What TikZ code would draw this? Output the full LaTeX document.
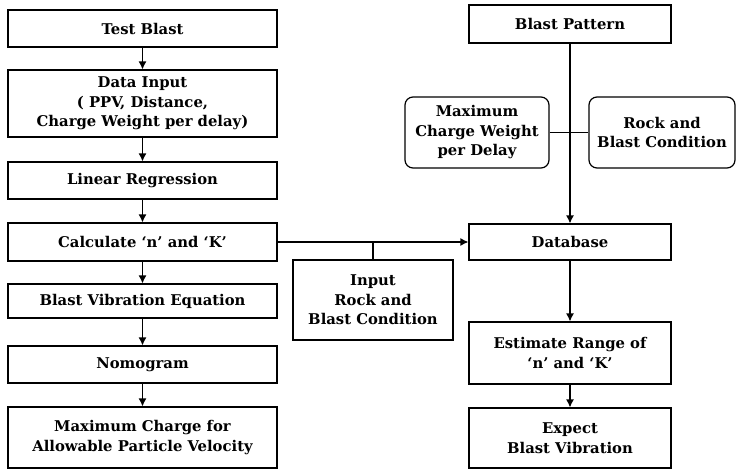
\documentclass[tikz,border=0pt]{standalone}
\usepackage{fontspec}
\setmainfont{DejaVu Serif}
\usetikzlibrary{positioning}
\usetikzlibrary{arrows.meta}

\begin{document}
\begin{tikzpicture}[
            x = 1pt, y = 1pt,
            > = {Latex[length=8pt,width=8pt]}, % arrow head style
            node distance = 60pt,
            line width = 1.2pt,
            font = \bfseries\fontsize{14.8}{19.5}\selectfont
        ]

        \tikzstyle{flowbox}=[
            draw,
            rectangle,
            align = center,
            inner sep = 0pt,
            minimum width = 269pt
        ]
        \tikzstyle{sidebox}=[
            draw,
            rectangle,
            rounded corners = 8pt,
            align = center,
            inner sep = 0pt
        ]

        \useasboundingbox (0,0) rectangle (737,-471);

	% test blast branch
        \node[flowbox, minimum height=37pt] (TB) at (142.5,-28.5) {Test Blast};
        \node[flowbox, minimum height=67pt] (DI) [below of=TB, node distance=75pt] {Data Input\\( PPV, Distance,\\Charge Weight per delay)};
        \node[flowbox, minimum height=37pt] (LR) [below of=DI, node distance=77pt] {Linear Regression};
        \node[flowbox, minimum height=38pt] (CNK) [below of=LR, node distance=61.5pt] {Calculate `n' and `K'};
        \node[flowbox, minimum height=34pt] (BVE) [below of=CNK, node distance=59pt] {Blast Vibration Equation};
        \node[flowbox, minimum height=37pt] (NG) [below of=BVE, node distance=63.5pt] {Nomogram};
        \node[flowbox, minimum height=61pt] (MC) [below of=NG, node distance=73pt] {Maximum Charge for\\Allowable Particle Velocity};

        \foreach \a/\b in {TB/DI, DI/LR, LR/CNK, CNK/BVE, BVE/NG, NG/MC}
            \draw[->] (\a) -- (\b);

	% database branch
        \node[flowbox, minimum width=202pt, minimum height=36pt] (DB) [right of=CNK, node distance=427.5pt] {Database};
        \node[flowbox, minimum width=202pt, minimum height=38pt] (BP) [above of=DB, node distance=218pt] {Blast Pattern};
        \node[sidebox, minimum width=144pt, minimum height=71pt] (MCW) at (477,-132.5) {Maximum\\Charge Weight\\per Delay};
        \node[sidebox, minimum width=146pt, minimum height=71pt] (RBC) at (662,-132.5) {Rock and\\Blast Condition};
        \node[flowbox, minimum width=202pt, minimum height=62pt] (ER) [below of=DB, node distance=111pt] {Estimate Range of\\`n' and `K'};
        \node[flowbox, minimum width=202pt, minimum height=60pt] (EBV) [below of=ER, node distance=85pt] {Expect\\Blast Vibration};

        \draw[->] (BP) -- (DB);
        \draw (MCW) -- (RBC);
        \draw[->] (DB) -- (ER);
        \draw[->] (ER) -- (EBV);

	% link between branches
        \node[flowbox, minimum width=160pt, minimum height=80pt] (IRB) at (373,-300) {Input\\Rock and\\Blast Condition};

        \draw[->] (CNK) -- (DB);
        \draw (IRB) -- (IRB |- CNK);

  \end{tikzpicture}
\end{document}
